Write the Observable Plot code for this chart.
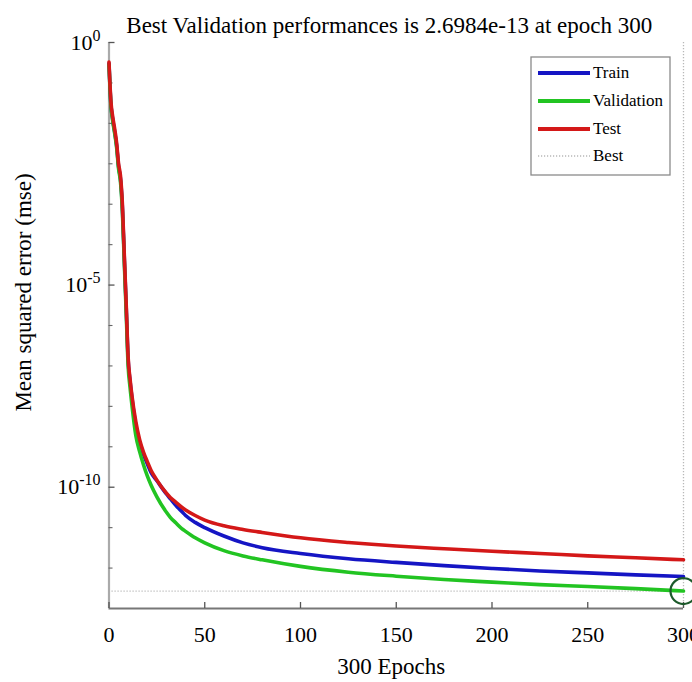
<!DOCTYPE html>
<html>
<head>
<meta charset="utf-8">
<script src="https://cdn.jsdelivr.net/npm/d3@7"></script>
<script src="https://cdn.jsdelivr.net/npm/@observablehq/plot@0.6"></script>
<style>
html, body { margin: 0; padding: 0; background: #fff; overflow: hidden; }
</style>
</head>
<body>
<div id="chart"></div>
<script>
// ---- data ----
const epochs = [0, 1, 2, 3, 4, 5, 6, 7, 8, 9, 10, 11, 12, 14, 16, 18, 20, 22, 25, 30, 32, 35, 38, 40, 45, 50, 60, 70, 80, 100, 125, 150, 175, 200, 225, 250, 275, 300];
const trainMse = [3.0, 0.3, 0.12, 0.06, 0.028, 8.5e-3, 4.2e-3, 8e-4, 4.5e-5, 2.7e-6, 1.4e-7, 4.2e-8, 1.6e-8, 3.4e-9, 1.25e-9, 6.5e-10, 3.8e-10, 2.3e-10, 1.45e-10, 6.8e-11, 5.2e-11, 3.5e-11, 2.5e-11, 2.0e-11, 1.35e-11, 1.0e-11, 6.2e-12, 4.2e-12, 3.2e-12, 2.3e-12, 1.7e-12, 1.38e-12, 1.15e-12, 9.8e-13, 8.5e-13, 7.6e-13, 6.8e-13, 6.2e-13];
const validationMse = [2.8, 0.28, 0.11, 0.055, 0.025, 7.5e-3, 3.6e-3, 6.5e-4, 3.5e-5, 2.0e-6, 1.0e-7, 2.9e-8, 1.05e-8, 1.9e-9, 7.6e-10, 3.6e-10, 1.9e-10, 1.12e-10, 5.8e-11, 2.4e-11, 1.8e-11, 1.3e-11, 9.5e-12, 8.1e-12, 5.6e-12, 4.2e-12, 2.7e-12, 2.0e-12, 1.6e-12, 1.1e-12, 7.9e-13, 6.3e-13, 5.2e-13, 4.5e-13, 3.9e-13, 3.5e-13, 3.1e-13, 2.6984e-13];
const testMse = [3.3, 0.35, 0.14, 0.071, 0.032, 0.01, 5.0e-3, 1.0e-3, 5.4e-5, 3.2e-6, 1.6e-7, 4.7e-8, 1.8e-8, 4.2e-9, 1.5e-9, 7.4e-10, 4.3e-10, 2.6e-10, 1.5e-10, 7.1e-11, 5.6e-11, 4.2e-11, 3.2e-11, 2.75e-11, 2.0e-11, 1.54e-11, 1.11e-11, 9.0e-12, 7.6e-12, 5.6e-12, 4.3e-12, 3.5e-12, 3.0e-12, 2.6e-12, 2.3e-12, 2.0e-12, 1.8e-12, 1.6e-12];
const bestEpoch = 300;
const bestPerf = 2.6984e-13;

const seriesNames = ["Train", "Validation", "Test", "Best"];
const seriesColors = ["#1515c4", "#22c422", "#d41818", "#b8b8b8"];

const xTicks = [0, 50, 100, 150, 200, 250, 300];
const yTicks = [1e1, 1e-5, 1e-10];
const yTickBase = ["10", "10", "10"];
const yTickExp = ["0", "-5", "-10"];
const yMinorTicks = [1e0, 1e-1, 1e-2, 1e-3, 1e-4, 1e-6, 1e-7, 1e-8, 1e-9, 1e-11, 1e-12];

const titleText = "Best Validation performances is 2.6984e-13 at epoch 300";
const xLabel = "300 Epochs";
const yLabel = "Mean squared error (mse)";

// ---- tidy table ----
const seriesValues = [trainMse, validationMse, testMse];
const rows = [];
seriesValues.forEach((vals, s) => {
  vals.forEach((v, i) => rows.push({series: seriesNames[s], epoch: epochs[i], mse: v}));
});

// ---- layout ----
const W = 692, H = 682;
const mL = 108.5, mR = 9, mT = 42, mB = 74;
const plotW = W - mL - mR, plotH = H - mT - mB;
const serif = "'Liberation Serif', 'Times New Roman', serif";
const axisGrey = "#777";

const plot = Plot.plot({
  width: W, height: H,
  marginLeft: mL, marginRight: mR, marginTop: mT, marginBottom: mB,
  style: {fontFamily: serif, background: "#fff", overflow: "visible", color: "#000"},
  x: {domain: [0, 300], axis: null},
  y: {type: "log", domain: [1e-13, 1e1], axis: null},
  color: {domain: seriesNames.slice(0, 3), range: seriesColors.slice(0, 3)},
  marks: [
    // best markers (dotted)
    Plot.ruleY([bestPerf], {y: d => d, stroke: seriesColors[3], strokeWidth: 1.3, strokeDasharray: "1.2,1.8"}),
    Plot.ruleX([bestEpoch], {x: d => d, stroke: seriesColors[3], strokeWidth: 1.3, strokeDasharray: "1.2,1.8"}),
    // axis lines
    Plot.ruleX([0], {x: d => d, stroke: "#aaa", strokeWidth: 2.2}),
    Plot.ruleY([1e-13], {y: d => d, stroke: axisGrey, strokeWidth: 2}),
    // inward ticks
    Plot.ruleX(xTicks, {x: d => d, stroke: "#555", strokeWidth: 1.3, insetTop: plotH - 6}),
    Plot.ruleY(yTicks, {y: d => d, stroke: "#555", strokeWidth: 1.3, insetRight: plotW - 6}),
    Plot.ruleY(yMinorTicks, {y: d => d, stroke: "#666", strokeWidth: 1.1, insetRight: plotW - 4}),
    // curves
    Plot.line(rows, {x: "epoch", y: "mse", stroke: "series", z: "series", strokeWidth: 3.6, curve: "monotone-x"}),
    // best circle
    Plot.dot([{epoch: bestEpoch, mse: bestPerf}], {x: "epoch", y: "mse", r: 13, stroke: "#1d5a2b", strokeWidth: 2.2, fill: "none"}),
    // x tick labels
    Plot.text(xTicks, {x: d => d, frameAnchor: "bottom", dy: 17.4, lineAnchor: "top", text: d => String(d), fontSize: 22}),
    // y tick labels (post-processed into superscripts)
    Plot.text(yTicks, {y: d => d, frameAnchor: "left", dx: -8.5, textAnchor: "end", lineAnchor: "middle", text: (d, i) => yTickBase[i] + "^" + yTickExp[i], fontSize: 22, className: "ytl"}),
    // axis titles
    Plot.text([xLabel], {frameAnchor: "bottom", dx: -5, dy: 49, lineAnchor: "top", textAnchor: "middle", text: d => d, fontSize: 23}),
    Plot.text([yLabel], {frameAnchor: "left", dx: -85.5, dy: -33, rotate: -90, textAnchor: "middle", lineAnchor: "middle", text: d => d, fontSize: 23}),
    Plot.text([titleText], {frameAnchor: "top", dx: -7, dy: -16.4, lineAnchor: "middle", textAnchor: "middle", text: d => d, fontSize: 23})
  ]
});

document.getElementById("chart").appendChild(plot);

// superscript tick labels
d3.select(plot).selectAll("g.ytl text").each(function() {
  const t = d3.select(this);
  const parts = t.text().split("^");
  t.text(null);
  t.append("tspan").text(parts[0]);
  t.append("tspan").attr("dy", "-0.55em").attr("font-size", "16px").text(parts[1]);
});

// legend
const svg = d3.select(plot);
const lg = svg.append("g").attr("font-family", serif).attr("font-size", 17).attr("text-anchor", "start");
lg.append("rect").attr("x", 531).attr("y", 57).attr("width", 139).attr("height", 118)
  .attr("fill", "#fff").attr("stroke", "#8a8a8a").attr("stroke-width", 1.3);
const rowsY = [73, 101, 129, 156];
seriesNames.forEach((name, i) => {
  const isBest = i === 3;
  lg.append("line").attr("x1", 538).attr("x2", 590).attr("y1", rowsY[i]).attr("y2", rowsY[i])
    .attr("stroke", seriesColors[i]).attr("stroke-width", isBest ? 1.3 : 4)
    .attr("stroke-dasharray", isBest ? "1.2,1.8" : null);
  lg.append("text").attr("x", 593).attr("y", rowsY[i]).attr("dy", "0.32em").attr("text-anchor", "start").text(name);
});
</script>
</body>
</html>
